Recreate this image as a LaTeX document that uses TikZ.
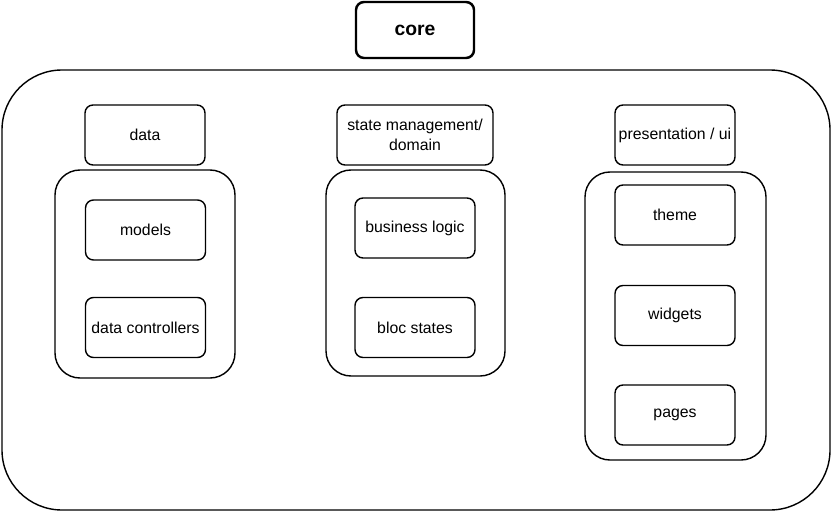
\documentclass[tikz,border=0pt]{standalone}
\usepackage{fontspec}
\setmainfont{Liberation Sans}
\usetikzlibrary{positioning}

\begin{document}
\begin{tikzpicture}[
    box/.style={rectangle, draw, rounded corners=0.16cm, line width=0.8pt, minimum width=2.4cm, minimum height=1.2cm, inner xsep=1pt, align=center, font=\fontsize{9}{11}\selectfont},
    group/.style={rectangle, draw, rounded corners=0.5cm, line width=0.8pt},
    frame/.style={rectangle, draw, rounded corners=1.2cm, line width=0.8pt}
]
    \useasboundingbox (0,0) rectangle (16.64,10.24);
    % title and outer frame
    \node[box, minimum width=2.36cm, minimum height=1.12cm, line width=1.4pt, font=\fontsize{11}{13}\selectfont\bfseries] (core) at (8.3,9.64) {core};
    \node[frame, minimum width=16.56cm, minimum height=8.8cm] (outer) at (8.32,4.44) {};

    % data column
    \node[box] (data) at (2.9,7.54) {data};
    \node[group, minimum width=3.6cm, minimum height=4.16cm] (datagroup) at (2.9,4.76) {};
    \node[box] (models) at (2.91,5.64) {models};
    \node[box] (datactrl) at (2.91,3.69) {data controllers};

    % state management column
    \node[box, minimum width=3.12cm] (state) at (8.3,7.54) {state management/\\domain};
    \node[group, minimum width=3.58cm, minimum height=4.12cm] (stategroup) at (8.31,4.78) {};
    \node[box] (logic) at (8.3,5.68) {business logic};
    \node[box] (bloc) at (8.3,3.69) {bloc states};

    % presentation column
    \node[box] (ui) at (13.5,7.54) {presentation / ui};
    \node[group, minimum width=3.62cm, minimum height=5.76cm] (uigroup) at (13.51,3.92) {};
    \node[box] (theme) at (13.5,5.94) {theme};
    \node[box] (widgets) at (13.5,3.93) {widgets};
    \node[box] (pages) at (13.5,1.94) {pages};
\end{tikzpicture}
\end{document}
